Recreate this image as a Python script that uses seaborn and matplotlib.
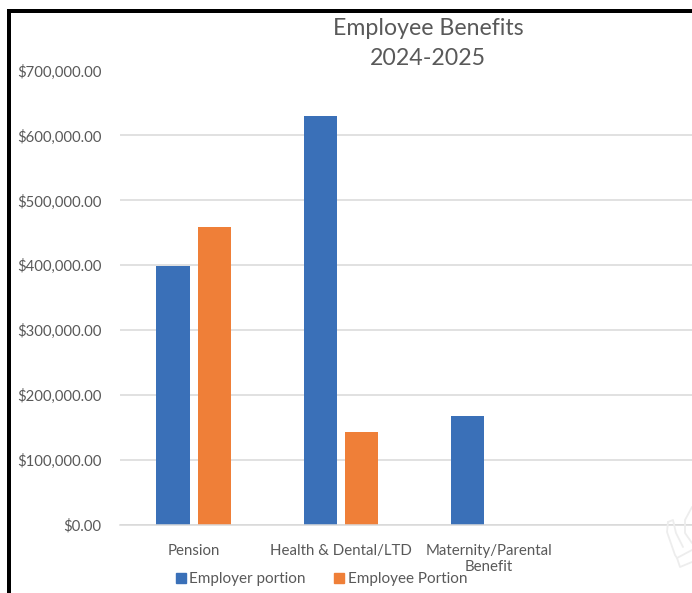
import matplotlib
matplotlib.use("Agg")
import matplotlib.pyplot as plt
from matplotlib.lines import Line2D
from matplotlib.patches import Rectangle
from matplotlib.ticker import FuncFormatter
import pandas as pd
import seaborn as sns

categories = ["Pension", "Health & Dental/LTD", "Maternity/Parental\nBenefit"]
employer = [399000, 630000, 168000]
employee = [459000, 143000, None]
y_ticks = [0, 100000, 200000, 300000, 400000, 500000, 600000, 700000]

df = pd.DataFrame({"Benefit": categories, "Employer portion": employer, "Employee Portion": employee})
df = df.melt(id_vars="Benefit", var_name="Portion", value_name="Amount")

sns.set_theme(style="white")
plt.rcParams["font.family"] = ["Lato", "DejaVu Sans"]

W, H = 692, 593
grey = "#595959"
blue = "#3A70B8"
orange = "#EF7F38"

fig = plt.figure(figsize=(W / 100, H / 100), dpi=100)
ax = fig.add_axes([120 / W, 1 - 525 / H, (W - 120) / W, (525 - 70.5) / H])

sns.barplot(
    data=df, x="Benefit", y="Amount", hue="Portion", palette=[blue, orange],
    width=0.5627, gap=0.2, saturation=1, linewidth=0, ax=ax, legend=False,
)

ax.set_xlim(-0.5, 3.38)
ax.set_ylim(0, 700000)
ax.set_yticks(y_ticks)
ax.yaxis.set_major_formatter(FuncFormatter(lambda v, _: f"${v:,.2f}"))
ax.set_xlabel("")
ax.set_ylabel("")
ax.grid(axis="y", color="#D9D9D9", linewidth=1.1)
ax.set_axisbelow(True)
sns.despine(ax=ax, left=True, top=True, right=True)
ax.spines["bottom"].set_color("#D9D9D9")
ax.spines["bottom"].set_linewidth(1.1)
ax.tick_params(axis="y", length=0, labelsize=10.7, labelcolor=grey, pad=13.5)
ax.tick_params(axis="x", length=0, labelsize=10.8, labelcolor=grey, pad=14)
for lbl in ax.get_xticklabels():
    lbl.set_linespacing(1.15)
    lbl.set_verticalalignment("top")

fig.text(428 / W, 1 - 43.5 / H, "Employee Benefits\n2024-2025", ha="center", va="center",
         fontsize=16.7, color=grey, linespacing=1.55)

# legend placed by hand, it sits right under the category labels
handles = [plt.Rectangle((0, 0), 1, 1, color=c) for c in [blue, orange]]
fig.legend(handles, ["Employer portion", "Employee Portion"], loc="center",
           bbox_to_anchor=(321.5 / W, 1 - 579 / H), ncol=2, frameon=False, fontsize=11,
           labelcolor=grey, handlelength=0.65, handleheight=0.65, handletextpad=0.25,
           columnspacing=1.85, borderpad=0)

# black frame of the screenshot
fig.add_artist(Rectangle((7 / W, 1 - 13 / H), (W - 7) / W, 4 / H, transform=fig.transFigure, color="black", lw=0))
fig.add_artist(Rectangle((7 / W, 0), 4 / W, 1 - 9 / H, transform=fig.transFigure, color="black", lw=0))

# faint hand watermark in the corner
for path in [
    [(668, 522), (667, 532), (675, 555), (677, 558), (692, 550)],
    [(668, 522), (673, 520), (676, 533), (683, 547)],
    [(677, 558), (680, 567), (692, 562)],
    [(692, 507), (685, 520), (685, 533), (692, 543)],
]:
    xs = [p[0] / W for p in path]
    ys = [1 - p[1] / H for p in path]
    fig.add_artist(Line2D(xs, ys, transform=fig.transFigure, color="#EDEDED", lw=1.3))

fig.savefig("out.png", dpi=100)
